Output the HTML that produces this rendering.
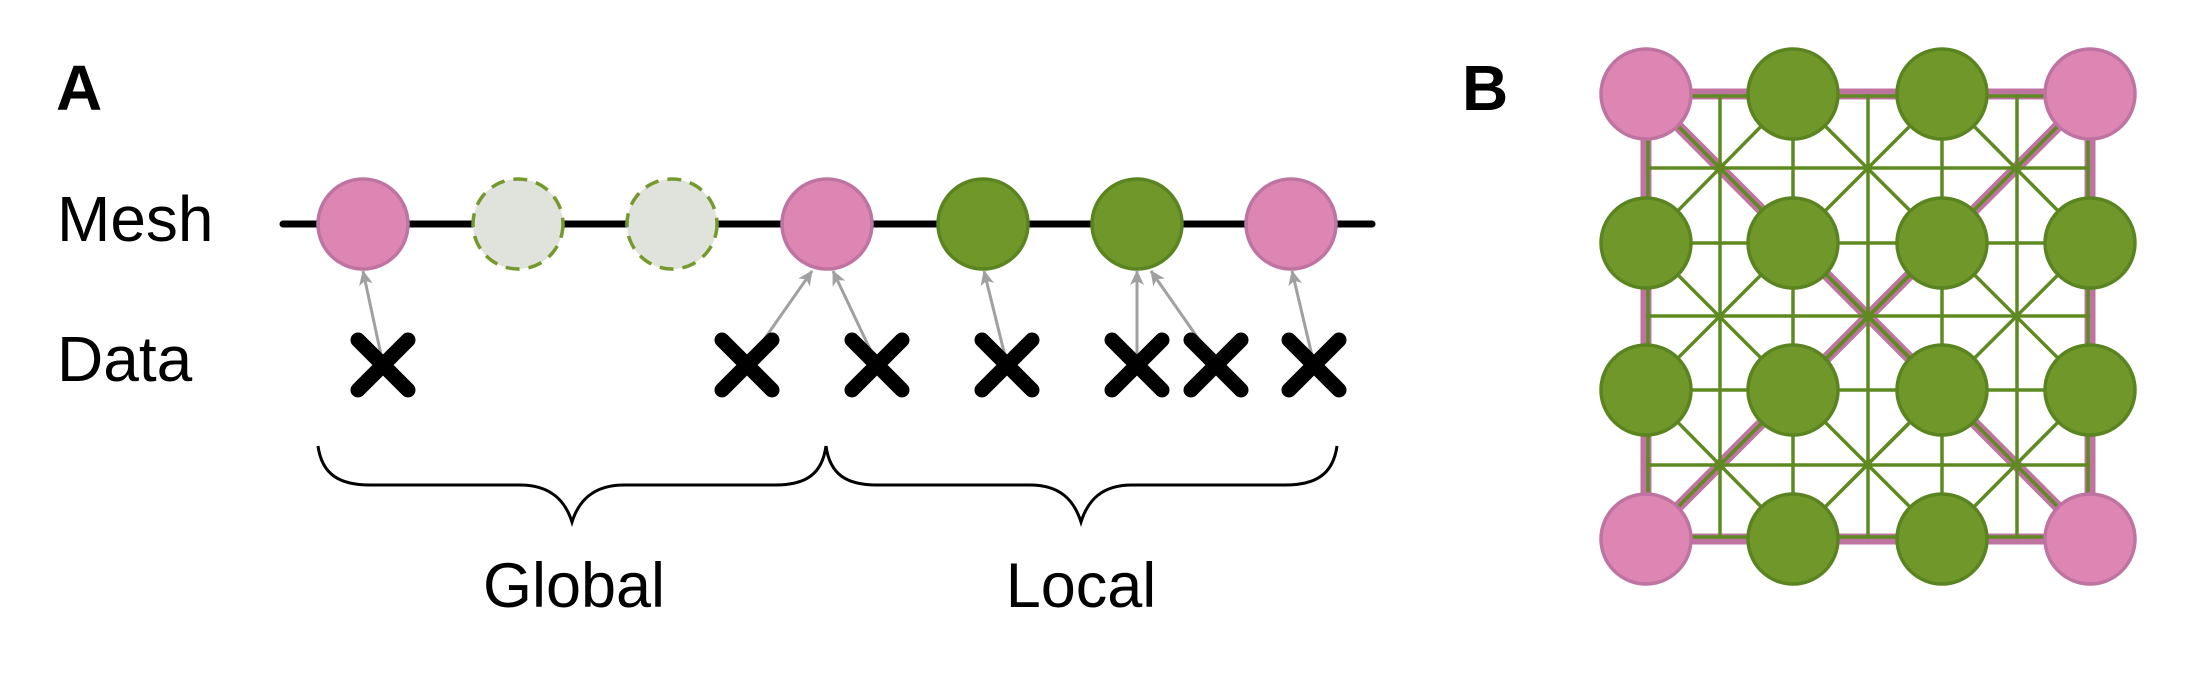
<!DOCTYPE html>
<html><head><meta charset="utf-8"><style>
html,body{margin:0;padding:0;background:#fff}
svg{display:block}
text{font-family:"Liberation Sans",sans-serif}
</style></head><body>
<svg width="2196" height="676" viewBox="0 0 2196 676" xmlns="http://www.w3.org/2000/svg">
<defs>
<marker id="ah2" markerWidth="16" markerHeight="14" refX="14" refY="7" orient="auto" markerUnits="userSpaceOnUse">
<path d="M0,0 L15,7 L0,14 L4,7 Z" fill="#a0a0a3"/>
</marker>
</defs>
<!-- Panel A -->
<text x="56" y="110" font-size="64" font-weight="bold">A</text>
<text x="57" y="241" font-size="64">Mesh</text>
<text x="57" y="381" font-size="64">Data</text>
<line x1="283" y1="224" x2="1372" y2="224" stroke="#000" stroke-width="7" stroke-linecap="round"/>
<g stroke-width="3.5">
<circle cx="363" cy="224" r="45" fill="#dd86b4" stroke="#bf73a0"/>
<circle cx="518" cy="224" r="45" fill="#dfe3dc" stroke="#74992c" stroke-dasharray="14,9"/>
<circle cx="672" cy="224" r="45" fill="#dfe3dc" stroke="#74992c" stroke-dasharray="14,9"/>
<circle cx="827" cy="224" r="45" fill="#dd86b4" stroke="#bf73a0"/>
<circle cx="983" cy="224" r="45" fill="#70972a" stroke="#5a8420"/>
<circle cx="1137" cy="224" r="45" fill="#70972a" stroke="#5a8420"/>
<circle cx="1291" cy="224" r="45" fill="#dd86b4" stroke="#bf73a0"/>
</g>
<g stroke="#a0a0a3" stroke-width="3" fill="none" marker-end="url(#ah2)">
<line x1="383" y1="364" x2="363" y2="271"/>
<line x1="747" y1="364" x2="812" y2="271"/>
<line x1="877" y1="364" x2="833" y2="271"/>
<line x1="1007" y1="364" x2="984" y2="271"/>
<line x1="1137" y1="364" x2="1137" y2="271"/>
<line x1="1216" y1="364" x2="1151" y2="271"/>
<line x1="1314" y1="364" x2="1292" y2="271"/>
</g>
<g stroke="#000" stroke-width="15" stroke-linecap="round">
<path d="M358,340 L408,390 M408,340 L358,390"/>
<path d="M722,340 L772,390 M772,340 L722,390"/>
<path d="M852,340 L902,390 M902,340 L852,390"/>
<path d="M982,340 L1032,390 M1032,340 L982,390"/>
<path d="M1112,340 L1162,390 M1162,340 L1112,390"/>
<path d="M1191,340 L1241,390 M1241,340 L1191,390"/>
<path d="M1289,340 L1339,390 M1339,340 L1289,390"/>
</g>
<g stroke="#000" stroke-width="3" fill="none">
<path d="M318,446 C322,475 340,485 370,485 L520,485 C550,485 565,500 572,522 C579,500 594,485 624,485 L775,485 C805,485 822,475 826,446"/>
<path d="M826,446 C830,475 847,485 877,485 L1030,485 C1060,485 1074,500 1081,522 C1088,500 1102,485 1132,485 L1285,485 C1315,485 1333,475 1337,446"/>
</g>
<text x="574" y="607" font-size="63" text-anchor="middle">Global</text>
<text x="1081" y="607" font-size="63" text-anchor="middle">Local</text>
<!-- Panel B -->
<text x="1462" y="110" font-size="64" font-weight="bold">B</text>
<g stroke="#bf73a0" stroke-width="11" fill="none">
<rect x="1646" y="94" width="444" height="445"/>
<line x1="1646" y1="94" x2="2090" y2="539"/>
<line x1="2090" y1="94" x2="1646" y2="539"/>
</g>
<g stroke="#5f8a22" stroke-width="3.5" fill="none">
<line x1="1648" y1="96" x2="2088" y2="96"/>
<line x1="1648" y1="537" x2="2088" y2="537"/>
<line x1="1648" y1="96" x2="1648" y2="537"/>
<line x1="2088" y1="96" x2="2088" y2="537"/>
<line x1="1720" y1="94" x2="1720" y2="539"/>
<line x1="1793" y1="94" x2="1793" y2="539"/>
<line x1="1868" y1="94" x2="1868" y2="539"/>
<line x1="1942" y1="94" x2="1942" y2="539"/>
<line x1="2017" y1="94" x2="2017" y2="539"/>
<line x1="1646" y1="168" x2="2090" y2="168"/>
<line x1="1646" y1="243" x2="2090" y2="243"/>
<line x1="1646" y1="316" x2="2090" y2="316"/>
<line x1="1646" y1="390" x2="2090" y2="390"/>
<line x1="1646" y1="465" x2="2090" y2="465"/>
<path d="M1646,94 L1942,390 L1793,539 M1646,243 L1793,94 M1646,390 L1942,94 L2090,243 M1646,539 L2090,94 M1793,539 L2090,243 M1942,539 L2090,390 M1646,243 L1942,539 M1646,390 L1793,539 M1793,94 L2090,390 M1942,94 L2090,243 M1646,94 L2090,539 M1646,539 L1942,243"/>
</g>
<g stroke-width="3.5">
<circle cx="1646" cy="94" r="45" fill="#dd86b4" stroke="#bf73a0"/>
<circle cx="1793" cy="94" r="45" fill="#70972a" stroke="#5a8420"/>
<circle cx="1942" cy="94" r="45" fill="#70972a" stroke="#5a8420"/>
<circle cx="2090" cy="94" r="45" fill="#dd86b4" stroke="#bf73a0"/>
<circle cx="1646" cy="243" r="45" fill="#70972a" stroke="#5a8420"/>
<circle cx="1793" cy="243" r="45" fill="#70972a" stroke="#5a8420"/>
<circle cx="1942" cy="243" r="45" fill="#70972a" stroke="#5a8420"/>
<circle cx="2090" cy="243" r="45" fill="#70972a" stroke="#5a8420"/>
<circle cx="1646" cy="390" r="45" fill="#70972a" stroke="#5a8420"/>
<circle cx="1793" cy="390" r="45" fill="#70972a" stroke="#5a8420"/>
<circle cx="1942" cy="390" r="45" fill="#70972a" stroke="#5a8420"/>
<circle cx="2090" cy="390" r="45" fill="#70972a" stroke="#5a8420"/>
<circle cx="1646" cy="539" r="45" fill="#dd86b4" stroke="#bf73a0"/>
<circle cx="1793" cy="539" r="45" fill="#70972a" stroke="#5a8420"/>
<circle cx="1942" cy="539" r="45" fill="#70972a" stroke="#5a8420"/>
<circle cx="2090" cy="539" r="45" fill="#dd86b4" stroke="#bf73a0"/>
</g>
</svg>
</body></html>
